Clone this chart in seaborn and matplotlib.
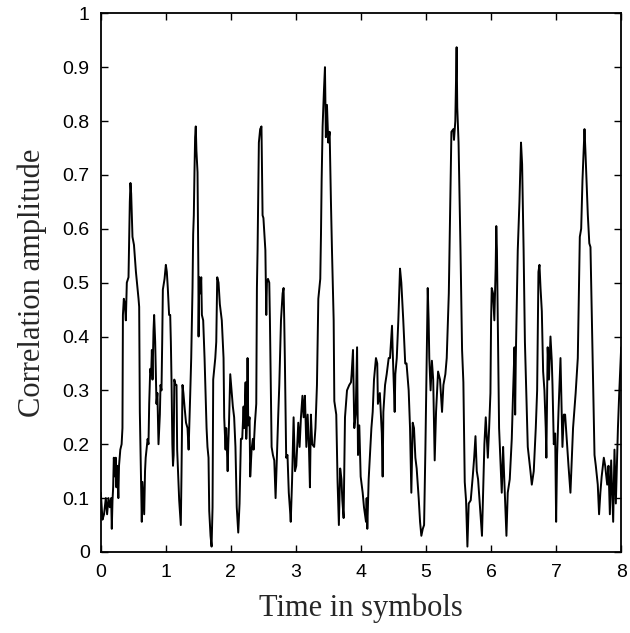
import matplotlib
matplotlib.use("Agg")
import matplotlib.pyplot as plt
import seaborn as sns
import pandas as pd

# correlation trace (time in symbols, amplitude)
t = [0.00, 0.026, 0.05, 0.077, 0.097, 0.118, 0.138, 0.159, 0.169, 0.18,
     0.19, 0.20, 0.21, 0.22, 0.23, 0.24, 0.25, 0.26, 0.27, 0.28,
     0.30, 0.32, 0.333, 0.34, 0.354, 0.37, 0.385, 0.40, 0.426, 0.436,
     0.446, 0.456, 0.467, 0.477, 0.487, 0.51, 0.54, 0.58, 0.59, 0.60,
     0.615, 0.63, 0.64, 0.656, 0.667, 0.68, 0.69, 0.72, 0.733, 0.744,
     0.76, 0.774, 0.785, 0.795, 0.81, 0.82, 0.836, 0.856, 0.87, 0.887,
     0.908, 0.918, 0.933, 0.944, 0.954, 0.98, 1.00, 1.015, 1.03, 1.05,
     1.067, 1.077, 1.087, 1.10, 1.11, 1.12, 1.13, 1.15, 1.164, 1.174,
     1.19, 1.205, 1.23, 1.24, 1.256, 1.27, 1.287, 1.31, 1.333, 1.35,
     1.36, 1.374, 1.39, 1.40, 1.41, 1.42, 1.43, 1.44, 1.45, 1.46,
     1.47, 1.487, 1.50, 1.503, 1.513, 1.53, 1.544, 1.554, 1.574, 1.595,
     1.605, 1.626, 1.64, 1.656, 1.667, 1.687, 1.703, 1.718, 1.728, 1.76,
     1.775, 1.79, 1.81, 1.83, 1.86, 1.887, 1.897, 1.918, 1.928, 1.95,
     1.96, 1.97, 1.99, 2.01, 2.03, 2.05, 2.07, 2.09, 2.113, 2.133,
     2.154, 2.174, 2.195, 2.205, 2.226, 2.236, 2.246, 2.256, 2.267, 2.287,
     2.297, 2.318, 2.338, 2.349, 2.37, 2.39, 2.40, 2.41, 2.43, 2.45,
     2.47, 2.487, 2.50, 2.53, 2.544, 2.554, 2.57, 2.59, 2.60, 2.615,
     2.626, 2.646, 2.667, 2.687, 2.708, 2.728, 2.744, 2.77, 2.795, 2.81,
     2.82, 2.83, 2.84, 2.85, 2.87, 2.89, 2.91, 2.92, 2.94, 2.964,
     2.985, 3.005, 3.036, 3.056, 3.077, 3.10, 3.118, 3.138, 3.16, 3.18,
     3.20, 3.215, 3.23, 3.25, 3.28, 3.30, 3.323, 3.344, 3.374, 3.385,
     3.395, 3.41, 3.43, 3.446, 3.46, 3.477, 3.497, 3.518, 3.538, 3.554,
     3.58, 3.59, 3.62, 3.64, 3.66, 3.68, 3.70, 3.713, 3.733, 3.754,
     3.785, 3.82, 3.846, 3.856, 3.877, 3.897, 3.918, 3.94, 3.954, 3.974,
     3.995, 4.026, 4.046, 4.077, 4.087, 4.097, 4.118, 4.16, 4.18, 4.20,
     4.23, 4.25, 4.26, 4.29, 4.32, 4.333, 4.344, 4.37, 4.395, 4.426,
     4.446, 4.477, 4.487, 4.518, 4.528, 4.55, 4.574, 4.60, 4.62, 4.65,
     4.68, 4.70, 4.733, 4.754, 4.774, 4.795, 4.815, 4.836, 4.856, 4.887,
     4.908, 4.928, 4.95, 4.97, 4.99, 5.01, 5.026, 5.04, 5.05, 5.07,
     5.09, 5.11, 5.133, 5.154, 5.185, 5.215, 5.246, 5.267, 5.297, 5.318,
     5.35, 5.37, 5.39, 5.42, 5.43, 5.45, 5.47, 5.48, 5.50, 5.53,
     5.554, 5.574, 5.595, 5.615, 5.636, 5.656, 5.687, 5.718, 5.74, 5.76,
     5.78, 5.80, 5.86, 5.875, 5.897, 5.918, 5.95, 5.97, 5.99, 6.00,
     6.01, 6.03, 6.05, 6.07, 6.08, 6.09, 6.10, 6.123, 6.144, 6.164,
     6.185, 6.195, 6.215, 6.236, 6.256, 6.287, 6.318, 6.338, 6.36, 6.37,
     6.38, 6.41, 6.436, 6.46, 6.477, 6.50, 6.52, 6.564, 6.605, 6.626,
     6.656, 6.687, 6.708, 6.728, 6.744, 6.76, 6.78, 6.80, 6.82, 6.84,
     6.85, 6.87, 6.89, 6.913, 6.933, 6.944, 6.964, 6.985, 7.00, 7.015,
     7.036, 7.067, 7.097, 7.118, 7.138, 7.17, 7.19, 7.22, 7.26, 7.30,
     7.333, 7.364, 7.385, 7.405, 7.436, 7.45, 7.467, 7.487, 7.51, 7.528,
     7.55, 7.56, 7.59, 7.61, 7.64, 7.66, 7.68, 7.70, 7.733, 7.754,
     7.785, 7.805, 7.826, 7.846, 7.877, 7.897, 7.918, 7.95, 7.97, 8.00]

amp = [0.11, 0.06, 0.07, 0.10, 0.07, 0.10, 0.083, 0.10, 0.043, 0.096,
       0.12, 0.175, 0.16, 0.14, 0.175, 0.12, 0.16, 0.135, 0.10, 0.16,
       0.19, 0.20, 0.23, 0.44, 0.47, 0.46, 0.43, 0.50, 0.51, 0.585,
       0.65, 0.685, 0.665, 0.625, 0.585, 0.57, 0.52, 0.47, 0.455, 0.26,
       0.16, 0.056, 0.13, 0.096, 0.07, 0.15, 0.175, 0.21, 0.20, 0.275,
       0.34, 0.33, 0.375, 0.32, 0.41, 0.44, 0.39, 0.275, 0.295, 0.20,
       0.255, 0.31, 0.30, 0.39, 0.487, 0.507, 0.533, 0.52, 0.49, 0.44,
       0.44, 0.39, 0.32, 0.20, 0.16, 0.18, 0.32, 0.31, 0.31, 0.19,
       0.14, 0.096, 0.05, 0.14, 0.31, 0.295, 0.27, 0.24, 0.23, 0.19,
       0.23, 0.29, 0.36, 0.43, 0.49, 0.59, 0.625, 0.705, 0.77, 0.79,
       0.745, 0.705, 0.52, 0.40, 0.51, 0.48, 0.51, 0.44, 0.43, 0.36,
       0.32, 0.23, 0.195, 0.175, 0.076, 0.03, 0.01, 0.083, 0.32, 0.36,
       0.39, 0.51, 0.50, 0.46, 0.43, 0.36, 0.25, 0.19, 0.23, 0.15,
       0.20, 0.235, 0.33, 0.30, 0.27, 0.25, 0.195, 0.083, 0.036, 0.09,
       0.21, 0.21, 0.27, 0.23, 0.315, 0.21, 0.24, 0.36, 0.235, 0.25,
       0.14, 0.19, 0.21, 0.19, 0.24, 0.275, 0.49, 0.56, 0.76, 0.785,
       0.79, 0.625, 0.62, 0.56, 0.44, 0.50, 0.507, 0.50, 0.43, 0.295,
       0.195, 0.18, 0.17, 0.10, 0.18, 0.255, 0.31, 0.43, 0.48, 0.49,
       0.43, 0.355, 0.26, 0.175, 0.18, 0.11, 0.076, 0.056, 0.13, 0.25,
       0.15, 0.16, 0.24, 0.195, 0.25, 0.29, 0.25, 0.29, 0.195, 0.255,
       0.195, 0.12, 0.255, 0.20, 0.195, 0.23, 0.31, 0.47, 0.507, 0.59,
       0.69, 0.79, 0.855, 0.90, 0.77, 0.83, 0.76, 0.78, 0.65, 0.56,
       0.43, 0.28, 0.255, 0.13, 0.05, 0.155, 0.135, 0.096, 0.063, 0.25,
       0.30, 0.31, 0.315, 0.33, 0.375, 0.23, 0.255, 0.38, 0.18, 0.235,
       0.14, 0.11, 0.083, 0.056, 0.10, 0.043, 0.135, 0.23, 0.26, 0.32,
       0.36, 0.35, 0.275, 0.295, 0.22, 0.14, 0.26, 0.31, 0.33, 0.36,
       0.36, 0.42, 0.375, 0.26, 0.33, 0.36, 0.43, 0.526, 0.50, 0.43,
       0.35, 0.35, 0.30, 0.23, 0.11, 0.24, 0.23, 0.175, 0.155, 0.10,
       0.056, 0.03, 0.043, 0.05, 0.19, 0.36, 0.49, 0.43, 0.36, 0.30,
       0.355, 0.32, 0.17, 0.26, 0.335, 0.32, 0.26, 0.31, 0.33, 0.36,
       0.48, 0.626, 0.78, 0.785, 0.765, 0.80, 0.937, 0.825, 0.76, 0.56,
       0.375, 0.315, 0.13, 0.096, 0.01, 0.09, 0.096, 0.14, 0.175, 0.215,
       0.15, 0.135, 0.03, 0.096, 0.20, 0.25, 0.175, 0.23, 0.295, 0.43,
       0.49, 0.48, 0.43, 0.526, 0.605, 0.56, 0.455, 0.23, 0.17, 0.11,
       0.195, 0.16, 0.096, 0.03, 0.11, 0.135, 0.21, 0.295, 0.38, 0.255,
       0.36, 0.56, 0.65, 0.76, 0.72, 0.56, 0.39, 0.195, 0.15, 0.125,
       0.15, 0.23, 0.30, 0.52, 0.533, 0.49, 0.447, 0.335, 0.30, 0.23,
       0.175, 0.38, 0.32, 0.40, 0.355, 0.31, 0.20, 0.22, 0.056, 0.18,
       0.26, 0.36, 0.195, 0.255, 0.255, 0.195, 0.16, 0.11, 0.23, 0.295,
       0.36, 0.585, 0.60, 0.69, 0.785, 0.745, 0.69, 0.626, 0.573, 0.566,
       0.43, 0.36, 0.18, 0.16, 0.125, 0.07, 0.11, 0.14, 0.175, 0.16,
       0.125, 0.16, 0.07, 0.17, 0.056, 0.19, 0.09, 0.23, 0.295, 0.38]

x_ticks = [0, 1, 2, 3, 4, 5, 6, 7, 8]
y_ticks = [0, 0.1, 0.2, 0.3, 0.4, 0.5, 0.6, 0.7, 0.8, 0.9, 1]
y_labels = ["0", "0.1", "0.2", "0.3", "0.4", "0.5", "0.6", "0.7", "0.8", "0.9", "1"]

df = pd.DataFrame({"time": t, "amp": amp})

sns.set_style("ticks")
plt.rcParams["font.family"] = ["Liberation Sans", "DejaVu Sans"]

fig = plt.figure(figsize=(6.3, 6.33), dpi=100)
ax = fig.add_axes([0.160, 0.128, 0.826, 0.851])
sns.lineplot(data=df, x="time", y="amp", color="black", linewidth=1.4,
             estimator=None, sort=False, ax=ax)

ax.set_xlim(0, 8)
ax.set_ylim(0, 1)
ax.set_xticks(x_ticks)
ax.set_yticks(y_ticks)
ax.set_yticklabels(y_labels)
ax.tick_params(direction="in", top=True, right=True, length=5, width=1,
               labelsize=14, colors="black")
ax.tick_params(axis="x", pad=9)
ax.tick_params(axis="y", pad=8)
for s in ax.spines.values():
    s.set_visible(True)
    s.set_linewidth(1.3)
    s.set_color("black")

serif = ["Liberation Serif", "DejaVu Serif"]
ax.set_xlabel("Time in symbols", fontsize=22, family=serif, labelpad=9)
ax.set_ylabel("Correlation amplitude", fontsize=22, family=serif, labelpad=11)

fig.savefig("out.png", dpi=100, facecolor="white")
